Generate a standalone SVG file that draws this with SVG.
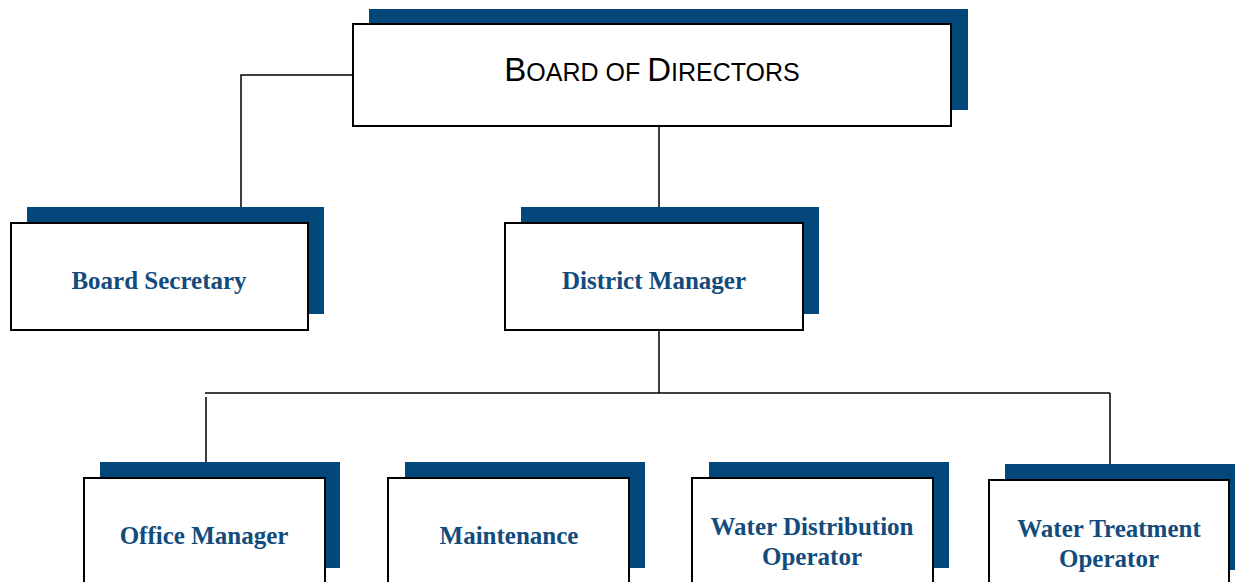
<svg xmlns="http://www.w3.org/2000/svg" width="1235" height="582" viewBox="0 0 1235 582">
<style>
.shadow{fill:#02467a}
.box{fill:#fff;stroke:#000;stroke-width:2}
.lbl{font-family:"Liberation Serif",serif;font-weight:bold;font-size:25px;fill:#124b7c;text-anchor:middle}
.top{font-family:"Liberation Sans",Arial,sans-serif;fill:#000;text-anchor:middle}
.conn{fill:none;stroke:#000;stroke-width:1.5}
</style>
<rect width="1235" height="582" fill="#fff"/>
<g id="connectors">
<polyline class="conn" points="353,75 241,75 241,207"/>
<line class="conn" x1="659" y1="126" x2="659" y2="207"/>
<line class="conn" x1="659" y1="330" x2="659" y2="393"/>
<line class="conn" x1="205" y1="393" x2="1110" y2="393"/>
<line class="conn" x1="206" y1="397" x2="206" y2="462"/>
<line class="conn" x1="1110" y1="393" x2="1110" y2="464"/>
</g>
<g id="board">
<rect class="shadow" x="369" y="9" width="599" height="101"/>
<rect class="box" x="353" y="24" width="598" height="102"/>
<text class="top" x="652" y="81" font-size="33">B<tspan font-size="25">OARD OF </tspan>D<tspan font-size="25">IRECTORS</tspan></text>
</g>
<g id="secretary">
<rect class="shadow" x="27" y="207" width="297" height="107"/>
<rect class="box" x="11" y="223" width="297" height="107"/>
<text class="lbl" x="159" y="289">Board Secretary</text>
</g>
<g id="district">
<rect class="shadow" x="521" y="207" width="298" height="107"/>
<rect class="box" x="505" y="223" width="298" height="107"/>
<text class="lbl" x="654" y="289">District Manager</text>
</g>
<g id="office">
<rect class="shadow" x="100" y="462" width="240" height="106"/>
<rect class="box" x="84" y="478" width="241" height="110"/>
<text class="lbl" x="204" y="544">Office Manager</text>
</g>
<g id="maintenance">
<rect class="shadow" x="405" y="462" width="240" height="106"/>
<rect class="box" x="388" y="478" width="241" height="110"/>
<text class="lbl" x="509" y="544">Maintenance</text>
</g>
<g id="distribution">
<rect class="shadow" x="709" y="462" width="240" height="106"/>
<rect class="box" x="692" y="478" width="241" height="110"/>
<text class="lbl" x="812" y="535">Water Distribution</text>
<text class="lbl" x="812" y="565">Operator</text>
</g>
<g id="treatment">
<rect class="shadow" x="1005" y="464" width="240" height="106"/>
<rect class="box" x="989" y="480" width="240" height="110"/>
<text class="lbl" x="1109" y="537">Water Treatment</text>
<text class="lbl" x="1109" y="567">Operator</text>
</g>
</svg>
